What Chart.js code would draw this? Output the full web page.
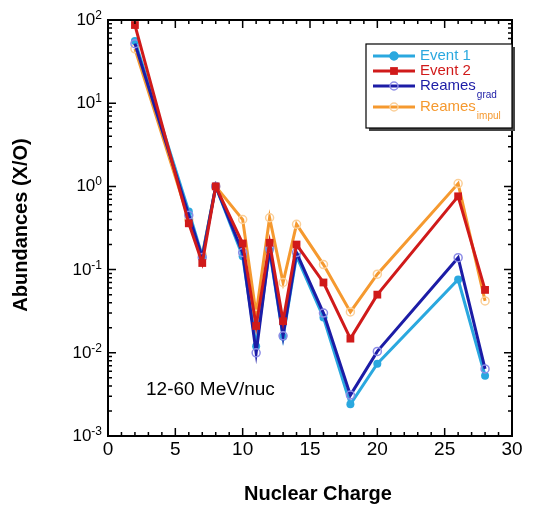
<!DOCTYPE html>
<html>
<head>
<meta charset="utf-8">
<script src="https://cdn.jsdelivr.net/npm/chart.js@4.4.0/dist/chart.umd.min.js"></script>
<style>
html, body { margin: 0; padding: 0; background: #fff; }
</style>
</head>
<body>
<canvas id="abundChart" width="539" height="508"></canvas>
<script>
// nuclear charge Z of each measured element
const charges = [2, 6, 7, 8, 10, 11, 12, 13, 14, 16, 18, 20, 26, 28];

// abundances relative to oxygen
const event1 = [56, 0.50, 0.145, 1.0, 0.145, 0.012, 0.17, 0.0156, 0.145, 0.0266, 0.0024, 0.0074, 0.076, 0.0053];
const event2 = [87, 0.36, 0.12, 1.0, 0.206, 0.021, 0.21, 0.024, 0.20, 0.070, 0.0148, 0.050, 0.76, 0.057];
const reamesGrad = [52, 0.45, 0.14, 1.0, 0.16, 0.010, 0.18, 0.016, 0.16, 0.030, 0.0031, 0.0104, 0.139, 0.0064];
const reamesImpul = [45, 0.40, 0.15, 1.0, 0.40, 0.029, 0.42, 0.070, 0.35, 0.115, 0.031, 0.088, 1.08, 0.042];

const xTickLabels = [0, 5, 10, 15, 20, 25, 30];
const yExponents = [2, 1, 0, -1, -2, -3];

const legendNames = ['Event 1', 'Event 2', 'Reames', 'Reames'];
const legendSubs = ['', '', 'grad', 'impul'];

const FONT = '"Liberation Sans", Arial, Helvetica, sans-serif';

function toPoints(values) {
    return charges.map((z, i) => ({ x: z, y: values[i] }));
}

function drawMarker(ctx, style, x, y) {
    ctx.save();
    ctx.fillStyle = style.fill;
    ctx.strokeStyle = style.stroke;
    ctx.lineWidth = 1.5;
    if (style.shape === 'rect') {
        const s = style.radius * Math.SQRT1_2;
        ctx.fillRect(x - s, y - s, 2 * s, 2 * s);
    } else {
        ctx.beginPath();
        ctx.arc(x, y, style.radius, 0, Math.PI * 2);
        if (style.fill !== 'transparent') ctx.fill();
        ctx.stroke();
    }
    ctx.restore();
}

const seriesStyles = [
    { color: '#2aa8df', shape: 'circle', radius: 4, fill: '#2aa8df', stroke: '#2aa8df' },
    { color: '#d01a1a', shape: 'rect', radius: 5.5, fill: '#d01a1a', stroke: '#d01a1a' },
    { color: '#1c1ca6', shape: 'circle', radius: 4, fill: 'transparent', stroke: '#8c8ce6' },
    { color: '#f5992f', shape: 'circle', radius: 4, fill: 'transparent', stroke: '#fbcf98' }
];

const seriesValues = [event1, event2, reamesGrad, reamesImpul];
const drawOrder = [2, 0, 1, 3];

const datasets = seriesValues.map((vals, i) => ({
    label: legendNames[i] + legendSubs[i],
    data: toPoints(vals),
    borderColor: seriesStyles[i].color,
    borderWidth: 3,
    pointStyle: seriesStyles[i].shape,
    pointRadius: seriesStyles[i].radius,
    pointBackgroundColor: seriesStyles[i].fill === 'transparent' ? 'rgba(0,0,0,0)' : seriesStyles[i].fill,
    pointBorderColor: seriesStyles[i].stroke,
    pointBorderWidth: seriesStyles[i].fill === 'transparent' ? 1.5 : 0,
    tension: 0,
    order: drawOrder[i]
}));

const framePlugin = {
    id: 'frame',
    afterDraw(chart) {
        const ctx = chart.ctx;
        const a = chart.chartArea;
        const xs = chart.scales.x;
        const ys = chart.scales.y;
        ctx.save();
        ctx.strokeStyle = '#000';
        ctx.lineWidth = 2;
        ctx.strokeRect(a.left, a.top, a.right - a.left, a.bottom - a.top);

        ctx.lineWidth = 1.5;
        ctx.beginPath();
        for (let v = 0; v <= 30; v++) {
            const px = xs.getPixelForValue(v);
            const len = v % 5 === 0 ? 8 : 4;
            ctx.moveTo(px, a.bottom); ctx.lineTo(px, a.bottom - len);
            ctx.moveTo(px, a.top); ctx.lineTo(px, a.top + len);
        }
        for (let e = -3; e <= 1; e++) {
            for (let m = 1; m <= 9; m++) {
                const py = ys.getPixelForValue(m * Math.pow(10, e));
                const len = m === 1 ? 8 : 4;
                ctx.moveTo(a.left, py); ctx.lineTo(a.left + len, py);
                ctx.moveTo(a.right, py); ctx.lineTo(a.right - len, py);
            }
        }
        ctx.stroke();

        // x tick labels
        ctx.fillStyle = '#000';
        ctx.font = '19px ' + FONT;
        ctx.textAlign = 'center';
        ctx.textBaseline = 'middle';
        xTickLabels.forEach(v => ctx.fillText(String(v), xs.getPixelForValue(v), a.bottom + 14));

        // y tick labels 10^n
        yExponents.forEach(e => {
            const py = ys.getPixelForValue(Math.pow(10, e));
            ctx.font = '12px ' + FONT;
            ctx.textAlign = 'right';
            ctx.textBaseline = 'alphabetic';
            const expText = String(e).replace('-', '-');
            const expW = ctx.measureText(expText).width;
            ctx.fillText(expText, a.left - 6, py - 1);
            ctx.font = '17px ' + FONT;
            ctx.fillText('10', a.left - 6 - expW, py + 5);
        });

        // axis titles
        ctx.font = 'bold 20px ' + FONT;
        ctx.textAlign = 'center';
        ctx.textBaseline = 'alphabetic';
        ctx.fillText('Nuclear Charge', 318, 500);
        ctx.save();
        ctx.translate(27, 225);
        ctx.rotate(-Math.PI / 2);
        ctx.fillText('Abundances (X/O)', 0, 0);
        ctx.restore();

        // energy range note
        ctx.font = '19px ' + FONT;
        ctx.textAlign = 'left';
        ctx.textBaseline = 'middle';
        ctx.fillText('12-60 MeV/nuc', 146, 390);

        // legend box with shadow
        const bx = 366, by = 44, bw = 146, bh = 84;
        ctx.fillStyle = '#444';
        ctx.fillRect(bx + 3, by + 3, bw, bh);
        ctx.fillStyle = '#fff';
        ctx.fillRect(bx, by, bw, bh);
        ctx.strokeStyle = '#000';
        ctx.lineWidth = 1.2;
        ctx.strokeRect(bx, by, bw, bh);

        const rowY = [56, 71, 86, 107];
        seriesStyles.forEach((st, i) => {
            const y = rowY[i];
            ctx.strokeStyle = st.color;
            ctx.lineWidth = 3;
            ctx.beginPath();
            ctx.moveTo(373, y); ctx.lineTo(415, y);
            ctx.stroke();
            drawMarker(ctx, st, 394, y);
            ctx.fillStyle = st.color;
            ctx.font = '15px ' + FONT;
            ctx.textAlign = 'left';
            ctx.textBaseline = 'middle';
            ctx.fillText(legendNames[i], 420, y);
            if (legendSubs[i]) {
                const w = ctx.measureText(legendNames[i]).width;
                ctx.font = '10px ' + FONT;
                ctx.fillText(legendSubs[i], 421 + w, y + 9);
            }
        });
        ctx.restore();
    }
};

const ctx = document.getElementById('abundChart').getContext('2d');
new Chart(ctx, {
    type: 'line',
    data: { datasets: datasets },
    options: {
        responsive: false,
        animation: false,
        layout: { padding: { left: 108, right: 27, top: 20, bottom: 72 } },
        plugins: {
            legend: { display: false },
            tooltip: { enabled: false }
        },
        scales: {
            x: { type: 'linear', min: 0, max: 30, display: false },
            y: { type: 'logarithmic', min: 0.001, max: 100, display: false }
        }
    },
    plugins: [framePlugin]
});
</script>
</body>
</html>
